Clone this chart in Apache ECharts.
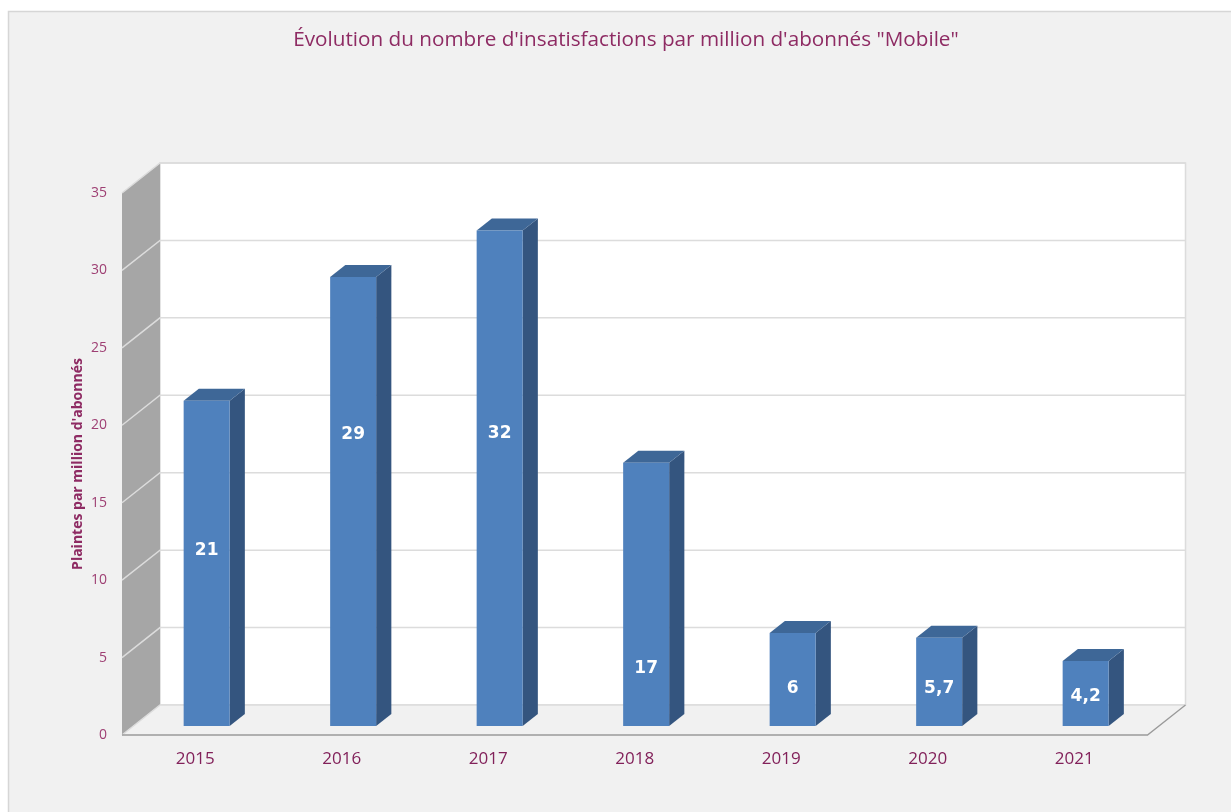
<!DOCTYPE html>
<html>
<head>
<meta charset="utf-8">
<script src="https://cdn.jsdelivr.net/npm/echarts@6/dist/echarts.min.js"></script>
<style>
  html, body { margin: 0; padding: 0; background: #ffffff; }
  #chart { width: 1231px; height: 812px; }
</style>
</head>
<body>
<div id="chart"></div>
<script>
// Complaints per million "Mobile" subscribers, by year
const years = ['2015', '2016', '2017', '2018', '2019', '2020', '2021'];
const complaints = [21, 29, 32, 17, 6, 5.7, 4.2];
const yTicks = [0, 5, 10, 15, 20, 25, 30, 35];
// Height (axis units above the bar base) where each value label is placed
const labelAnchors = [11.3, 18.8, 18.9, 3.7, 2.4, 2.4, 1.9];

// Pseudo-3D geometry: pixel offset from the front plane to the back wall
const DEPTH = [38, -30];
const BAR_FRONT = 0.3;   // bar front face, as a fraction of DEPTH
const BAR_DEPTH = 0.4;   // bar thickness, as a fraction of DEPTH
const BAR_RATIO = 0.314; // bar width relative to the category band

const TEXT = '#8e2b63';
const PANEL = '#f1f1f1';

function renderScene(params, api) {
  const cs = params.coordSys;
  const x0 = cs.x, x1 = cs.x + cs.width;
  const [dx, dy] = DEPTH;
  const yb = api.coord([0, yTicks[0]])[1];
  const yt = api.coord([0, yTicks[yTicks.length - 1]])[1];
  const children = [];
  // back wall
  children.push({
    type: 'rect',
    shape: { x: x0 + dx, y: yt + dy, width: x1 - x0, height: yb - yt },
    style: { fill: '#ffffff', stroke: '#dcdcdc', lineWidth: 1.5 }
  });
  // left wall
  children.push({
    type: 'polygon',
    shape: { points: [[x0, yb], [x0, yt], [x0 + dx, yt + dy], [x0 + dx, yb + dy]] },
    style: { fill: '#a6a6a6' }
  });
  // floor
  children.push({
    type: 'polygon',
    shape: { points: [[x0, yb], [x1, yb], [x1 + dx, yb + dy], [x0 + dx, yb + dy]] },
    style: { fill: PANEL }
  });
  // gridlines across the left wall and the back wall
  yTicks.forEach(v => {
    const y = api.coord([0, v])[1];
    children.push({
      type: 'polyline',
      shape: { points: [[x0, y], [x0 + dx, y + dy], [x1 + dx, y + dy]] },
      style: { stroke: '#dcdcdc', lineWidth: 1.5, fill: null }
    });
  });
  // floor front and right edges
  children.push({
    type: 'polyline',
    shape: { points: [[x0, yb], [x1, yb], [x1 + dx, yb + dy]] },
    style: { stroke: '#9a9a9a', lineWidth: 1.3, fill: null }
  });
  return { type: 'group', children };
}

function renderBar(params, api) {
  const i = api.value(0), v = api.value(1);
  const base = api.coord([i, 0]);
  const top = api.coord([i, v]);
  const half = api.size([1, 0])[0] * BAR_RATIO / 2;
  const ox = DEPTH[0] * BAR_FRONT, oy = DEPTH[1] * BAR_FRONT;
  const sx = DEPTH[0] * BAR_DEPTH, sy = DEPTH[1] * BAR_DEPTH;
  const xl = base[0] + ox - half, xr = base[0] + ox + half;
  const yb = base[1] + oy, yt = top[1] + oy;
  const ly = api.coord([i, labelAnchors[i]])[1] + oy;
  return {
    type: 'group',
    children: [
      {
        type: 'polygon',
        shape: { points: [[xr, yb], [xr, yt], [xr + sx, yt + sy], [xr + sx, yb + sy]] },
        style: { fill: '#34557f' }
      },
      {
        type: 'polygon',
        shape: { points: [[xl, yt], [xr, yt], [xr + sx, yt + sy], [xl + sx, yt + sy]] },
        style: { fill: '#3e6797' }
      },
      {
        type: 'rect',
        shape: { x: xl, y: yt, width: xr - xl, height: yb - yt },
        style: { fill: '#4f81bd' }
      },
      {
        type: 'text',
        style: {
          text: String(v).replace('.', ','),
          x: (xl + xr) / 2,
          y: ly,
          align: 'center',
          verticalAlign: 'middle',
          fill: '#ffffff',
          fontFamily: 'DejaVu Sans',
          fontWeight: 'bold',
          fontSize: 17
        }
      }
    ]
  };
}

const chart = echarts.init(document.getElementById('chart'), null, { renderer: 'canvas' });
chart.setOption({
  backgroundColor: '#ffffff',
  animation: false,
  graphic: [
    {
      type: 'rect',
      z: -10,
      silent: true,
      shape: { x: 8.5, y: 11.5, width: 1240, height: 820 },
      style: { fill: PANEL, stroke: '#d6d6d6', lineWidth: 1.5 }
    }
  ],
  title: {
    text: 'Évolution du nombre d\'insatisfactions par million d\'abonnés "Mobile"',
    left: 621,
    textAlign: 'center',
    top: 25,
    textStyle: { fontFamily: 'Open Sans', fontWeight: 'normal', fontSize: 20.7, color: TEXT }
  },
  grid: { left: 122, right: 83.5, top: 193, bottom: 77 },
  xAxis: {
    type: 'category',
    data: years,
    axisLine: { show: false },
    axisTick: { show: false },
    axisLabel: { fontFamily: 'Open Sans', fontSize: 17, color: '#82215a', margin: 16 }
  },
  yAxis: {
    type: 'value',
    min: yTicks[0],
    max: yTicks[yTicks.length - 1],
    interval: yTicks[1] - yTicks[0],
    name: 'Plaintes par million d\'abonnés',
    nameLocation: 'middle',
    nameGap: 37,
    nameMoveOverlap: false,
    nameRotate: 90,
    nameTextStyle: { fontFamily: 'Open Sans', fontWeight: 'bold', fontSize: 14, color: TEXT },
    axisLine: { show: false },
    axisTick: { show: false },
    splitLine: { show: false },
    axisLabel: { fontFamily: 'Open Sans', fontSize: 14, color: '#9e3f73', margin: 15 }
  },
  series: [
    {
      type: 'custom',
      silent: true,
      clip: false,
      z: 1,
      data: [[0, 0]],
      renderItem: renderScene
    },
    {
      type: 'custom',
      clip: false,
      z: 2,
      data: complaints.map((v, i) => [i, v]),
      encode: { x: 0, y: 1 },
      renderItem: renderBar
    }
  ]
});
</script>
</body>
</html>
